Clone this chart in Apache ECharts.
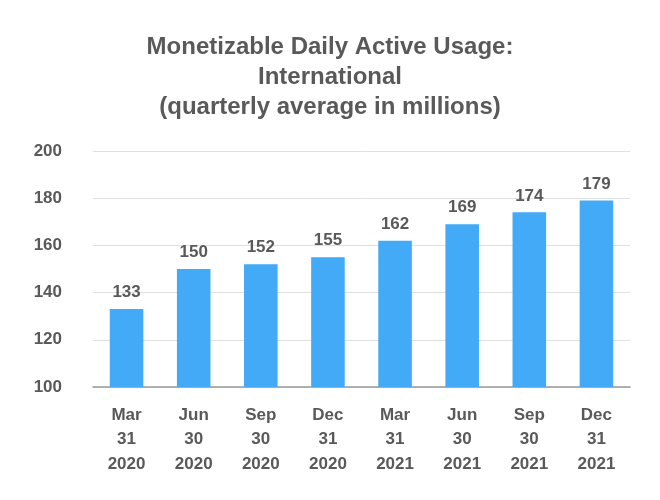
<!DOCTYPE html>
<html><head><meta charset="utf-8">
<script src="https://cdn.jsdelivr.net/npm/echarts@6/dist/echarts.min.js"></script>
<style>html,body{margin:0;padding:0;background:#fff}#c{width:660px;height:500px}</style>
</head><body><div id="c"></div>
<script>
var categories = ["Mar\n31\n2020","Jun\n30\n2020","Sep\n30\n2020","Dec\n31\n2020","Mar\n31\n2021","Jun\n30\n2021","Sep\n30\n2021","Dec\n31\n2021"];
var values = [133,150,152,155,162,169,174,179];
var yTicks = {min:100, max:200, interval:20};
var chart = echarts.init(document.getElementById('c'));
var font = 'Liberation Sans, Arial, sans-serif';
chart.setOption({
  animation:false,
  title:{text:'Monetizable Daily Active Usage:\nInternational\n(quarterly average in millions)', left:'center', top:27,
    textStyle:{fontFamily:font, fontSize:24, fontWeight:'bold', color:'#595959', lineHeight:30}},
  grid:{left:93, right:30, top:151, bottom:113},
  xAxis:{type:'category', data:categories,
    axisLine:{lineStyle:{color:'#999', width:1.5}}, axisTick:{show:false},
    axisLabel:{fontFamily:font, fontSize:17, fontWeight:'bold', color:'#595959', lineHeight:24.5, margin:16}},
  yAxis:{type:'value', min:yTicks.min, max:yTicks.max, interval:yTicks.interval,
    axisLine:{show:false}, axisTick:{show:false},
    splitLine:{lineStyle:{color:'#e0e0e0'}},
    axisLabel:{fontFamily:font, fontSize:17, fontWeight:'bold', color:'#595959', margin:31}},
  series:[{type:'bar', data:values, barWidth:'50%', itemStyle:{color:'#42aaf6'},
    label:{show:true, position:'top', distance:8, fontFamily:font, fontSize:17, fontWeight:'bold', color:'#595959'}}]
});
</script></body></html>
